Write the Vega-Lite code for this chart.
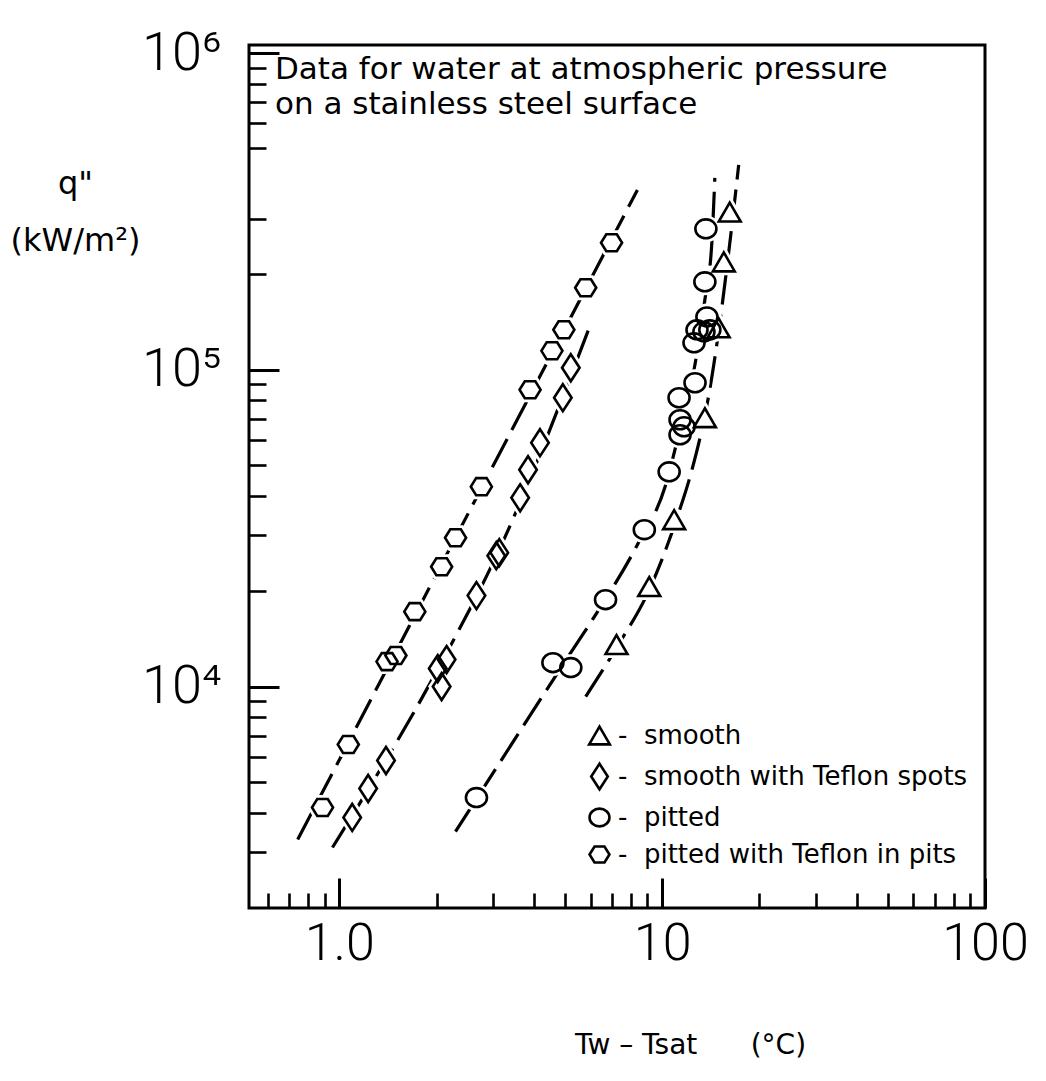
{
  "$schema": "https://vega.github.io/schema/vega-lite/v6.json",
  "width": 736,
  "height": 863,
  "autosize": {"type": "none"},
  "padding": {"left": 249, "top": 45, "right": 61, "bottom": 173},
  "background": "white",
  "title": {
    "text": ["Data for water at atmospheric pressure", "on a stainless steel surface"],
    "anchor": "start",
    "frame": "group",
    "orient": "top",
    "baseline": "top",
    "offset": -95,
    "dx": 26,
    "font": "DejaVu Sans",
    "fontSize": 31,
    "fontWeight": "normal",
    "lineHeight": 35,
    "color": "black"
  },
  "datasets": {
    "points": [
      {"surface": "smooth", "x": 7.22, "y": 13570},
      {"surface": "smooth", "x": 9.12, "y": 20680},
      {"surface": "smooth", "x": 10.89, "y": 33650},
      {"surface": "smooth", "x": 13.56, "y": 70600},
      {"surface": "smooth", "x": 14.96, "y": 135700},
      {"surface": "smooth", "x": 15.52, "y": 219100},
      {"surface": "smooth", "x": 16.19, "y": 314800},
      {"surface": "smooth with Teflon spots", "x": 1.096, "y": 3863},
      {"surface": "smooth with Teflon spots", "x": 1.228, "y": 4767},
      {"surface": "smooth with Teflon spots", "x": 1.395, "y": 5843},
      {"surface": "smooth with Teflon spots", "x": 2.074, "y": 10000},
      {"surface": "smooth with Teflon spots", "x": 2.017, "y": 11400},
      {"surface": "smooth with Teflon spots", "x": 2.149, "y": 12170},
      {"surface": "smooth with Teflon spots", "x": 2.659, "y": 19370},
      {"surface": "smooth with Teflon spots", "x": 3.063, "y": 25890},
      {"surface": "smooth with Teflon spots", "x": 3.129, "y": 26470},
      {"surface": "smooth with Teflon spots", "x": 3.631, "y": 39450},
      {"surface": "smooth with Teflon spots", "x": 3.842, "y": 48360},
      {"surface": "smooth with Teflon spots", "x": 4.183, "y": 58850},
      {"surface": "smooth with Teflon spots", "x": 4.924, "y": 81620},
      {"surface": "smooth with Teflon spots", "x": 5.212, "y": 101500},
      {"surface": "pitted", "x": 2.659, "y": 4464},
      {"surface": "pitted", "x": 4.587, "y": 11900},
      {"surface": "pitted", "x": 5.212, "y": 11480},
      {"surface": "pitted", "x": 6.677, "y": 18810},
      {"surface": "pitted", "x": 8.804, "y": 31280},
      {"surface": "pitted", "x": 10.51, "y": 47640},
      {"surface": "pitted", "x": 11.36, "y": 62370},
      {"surface": "pitted", "x": 11.69, "y": 66100},
      {"surface": "pitted", "x": 11.36, "y": 69550},
      {"surface": "pitted", "x": 11.28, "y": 81600},
      {"surface": "pitted", "x": 12.64, "y": 91000},
      {"surface": "pitted", "x": 12.55, "y": 121700},
      {"surface": "pitted", "x": 12.82, "y": 133700},
      {"surface": "pitted", "x": 13.47, "y": 131800},
      {"surface": "pitted", "x": 14.05, "y": 133700},
      {"surface": "pitted", "x": 13.76, "y": 146900},
      {"surface": "pitted", "x": 13.56, "y": 189600},
      {"surface": "pitted", "x": 13.66, "y": 278600},
      {"surface": "pitted with Teflon in pits", "x": 0.887, "y": 4152},
      {"surface": "pitted with Teflon in pits", "x": 1.066, "y": 6563},
      {"surface": "pitted with Teflon in pits", "x": 1.405, "y": 11990},
      {"surface": "pitted with Teflon in pits", "x": 1.497, "y": 12530},
      {"surface": "pitted with Teflon in pits", "x": 1.713, "y": 17240},
      {"surface": "pitted with Teflon in pits", "x": 2.074, "y": 23900},
      {"surface": "pitted with Teflon in pits", "x": 2.291, "y": 29510},
      {"surface": "pitted with Teflon in pits", "x": 2.754, "y": 42760},
      {"surface": "pitted with Teflon in pits", "x": 3.898, "y": 86490},
      {"surface": "pitted with Teflon in pits", "x": 4.555, "y": 114800},
      {"surface": "pitted with Teflon in pits", "x": 4.96, "y": 133800},
      {"surface": "pitted with Teflon in pits", "x": 5.796, "y": 181500},
      {"surface": "pitted with Teflon in pits", "x": 6.97, "y": 251800}
    ],
    "curves": [
      {"series": "hex", "x": 0.743, "y": 3291},
      {"series": "hex", "x": 8.38, "y": 369700},
      {"series": "diamond", "x": 0.952, "y": 3105},
      {"series": "diamond", "x": 2.031, "y": 11480},
      {"series": "diamond", "x": 3.107, "y": 26660},
      {"series": "diamond", "x": 5.96, "y": 136700},
      {"series": "circle", "x": 2.291, "y": 3487},
      {"series": "circle", "x": 5.212, "y": 12800},
      {"series": "circle", "x": 6.31, "y": 17240},
      {"series": "circle", "x": 8.38, "y": 28050},
      {"series": "circle", "x": 10.21, "y": 42760},
      {"series": "circle", "x": 11.44, "y": 67000},
      {"series": "circle", "x": 12.55, "y": 100000},
      {"series": "circle", "x": 13.56, "y": 166400},
      {"series": "circle", "x": 14.25, "y": 251600},
      {"series": "circle", "x": 14.56, "y": 403600},
      {"series": "triangle", "x": 5.796, "y": 9300},
      {"series": "triangle", "x": 7.22, "y": 13270},
      {"series": "triangle", "x": 9.12, "y": 20220},
      {"series": "triangle", "x": 11.12, "y": 34140},
      {"series": "triangle", "x": 12.37, "y": 48400},
      {"series": "triangle", "x": 13.27, "y": 64700},
      {"series": "triangle", "x": 13.95, "y": 83400},
      {"series": "triangle", "x": 14.76, "y": 120000},
      {"series": "triangle", "x": 15.97, "y": 222300},
      {"series": "triangle", "x": 17.26, "y": 443500}
    ]
  },
  "layer": [
    {
      "data": {"name": "curves"},
      "mark": {"type": "line", "stroke": "black", "strokeWidth": 3.2, "strokeDash": [32, 10], "interpolate": "monotone"},
      "encoding": {
        "x": {
          "field": "x", "type": "quantitative",
          "scale": {"type": "log", "domain": [0.525, 100], "nice": false},
          "axis": {
            "orient": "bottom",
            "values": [1, 10, 100],
            "tickSize": -30, "tickWidth": 3, "tickColor": "black",
            "labelExpr": "datum.value == 1 ? '1.0' : datum.value == 10 ? '10' : '100'",
            "labelFont": "Roboto", "labelFontWeight": 300, "labelFontSize": 52, "labelColor": "black",
            "labelPadding": 40, "labelFlush": false, "labelOverlap": false, "labelBound": false,
            "domain": false, "grid": false,
            "title": "Tw – Tsat\u00a0\u00a0\u00a0\u00a0\u00a0\u00a0(°C)",
            "titleFont": "DejaVu Sans", "titleFontSize": 28, "titleFontWeight": "normal", "titleColor": "black",
            "titleX": 441, "titleY": 145, "titleAlign": "center", "titleBaseline": "alphabetic"
          }
        },
        "y": {
          "field": "y", "type": "quantitative",
          "scale": {"type": "log", "domain": [2000, 1060000], "nice": false},
          "axis": {
            "orient": "left",
            "values": [10000, 100000, 1000000],
            "tickSize": -30, "tickWidth": 3, "tickColor": "black",
            "labelExpr": "datum.value == 1000000 ? '10⁶' : datum.value == 100000 ? '10⁵' : '10⁴'",
            "labelFont": "Roboto", "labelFontWeight": 300, "labelFontSize": 54, "labelColor": "black",
            "labelPadding": 58, "labelFlush": false, "labelOverlap": false, "labelBound": false,
            "domain": false, "grid": false,
            "title": ["q\"", "(kW/m²)"],
            "titleFont": "DejaVu Sans", "titleFontSize": 32, "titleFontWeight": "normal", "titleColor": "black",
            "titleAngle": 0, "titleX": -174, "titleY": 148, "titleAlign": "center", "titleBaseline": "alphabetic", "titleLineHeight": 57
          }
        },
        "detail": {"field": "series", "type": "nominal"}
      }
    },
    {
      "data": {"name": "points"},
      "mark": {"type": "point", "filled": true, "fill": "white", "stroke": "white", "strokeWidth": 8, "size": 729, "opacity": 1},
      "encoding": {
        "x": {
          "field": "x", "type": "quantitative",
          "scale": {"type": "log", "domain": [0.525, 100], "nice": false},
          "axis": {
            "orient": "bottom",
            "values": [0.6, 0.7, 0.8, 0.9, 2, 3, 4, 5, 6, 7, 8, 9, 20, 30, 40, 50, 60, 70, 80, 90],
            "tickSize": -15, "tickWidth": 2.6, "tickColor": "black",
            "labels": false, "domain": false, "grid": false, "title": null
          }
        },
        "y": {
          "field": "y", "type": "quantitative",
          "scale": {"type": "log", "domain": [2000, 1060000], "nice": false},
          "axis": {
            "orient": "left",
            "values": [3000, 4000, 5000, 6000, 7000, 8000, 9000, 20000, 30000, 40000, 50000, 60000, 70000, 80000, 90000, 200000, 300000, 500000, 600000, 700000, 800000, 900000],
            "tickSize": -17, "tickWidth": 2.6, "tickColor": "black",
            "labels": false, "domain": false, "grid": false, "title": null
          }
        },
        "shape": {
          "field": "surface", "type": "nominal",
          "scale": {
            "domain": ["smooth", "smooth with Teflon spots", "pitted", "pitted with Teflon in pits"],
            "range": ["M0,-0.7L0.81,0.7L-0.81,0.7Z", "M0,-1L0.65,0L0,1L-0.65,0Z", "M0.78,0A0.78,0.7,0,1,1,-0.78,0A0.78,0.7,0,1,1,0.78,0Z", "M-0.78,0L-0.39,-0.63L0.39,-0.63L0.78,0L0.39,0.63L-0.39,0.63Z"]
          },
          "legend": null
        }
      }
    },
    {
      "data": {"name": "points"},
      "mark": {"type": "point", "filled": false, "stroke": "black", "strokeWidth": 2.6, "size": 729, "opacity": 1},
      "encoding": {
        "x": {"field": "x", "type": "quantitative", "scale": {"type": "log", "domain": [0.525, 100], "nice": false}, "axis": null},
        "y": {"field": "y", "type": "quantitative", "scale": {"type": "log", "domain": [2000, 1060000], "nice": false}, "axis": null},
        "shape": {
          "field": "surface", "type": "nominal",
          "scale": {
            "domain": ["smooth", "smooth with Teflon spots", "pitted", "pitted with Teflon in pits"],
            "range": ["M0,-0.7L0.81,0.7L-0.81,0.7Z", "M0,-1L0.65,0L0,1L-0.65,0Z", "M0.78,0A0.78,0.7,0,1,1,-0.78,0A0.78,0.7,0,1,1,0.78,0Z", "M-0.78,0L-0.39,-0.63L0.39,-0.63L0.78,0L0.39,0.63L-0.39,0.63Z"]
          },
          "legend": {
            "orient": "none", "legendX": 336, "legendY": 676, "title": null, "padding": 0,
            "labelFont": "DejaVu Sans", "labelFontSize": 26, "labelColor": "black", "labelLimit": 600,
            "labelExpr": "'-\u00a0\u00a0' + datum.label",
            "labelOffset": 4, "rowPadding": 8,
            "symbolSize": 650, "symbolStrokeWidth": 2.6, "symbolStrokeColor": "black", "symbolFillColor": "transparent"
          }
        }
      }
    }
  ],
  "resolve": {
    "axis": {"x": "independent", "y": "independent"},
    "scale": {"shape": "independent"},
    "legend": {"shape": "independent"}
  },
  "config": {
    "view": {"stroke": "black", "strokeWidth": 3},
    "axis": {"grid": false, "domain": false},
    "font": "DejaVu Sans"
  }
}
